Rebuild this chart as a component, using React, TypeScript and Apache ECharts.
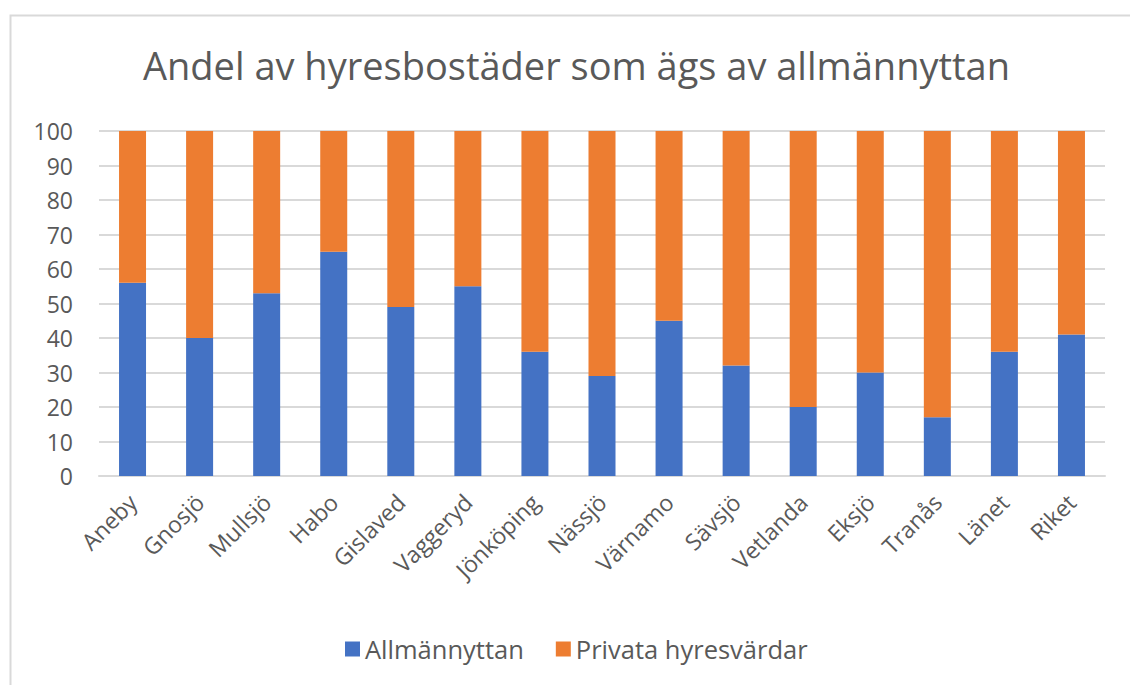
import React, { useEffect, useRef } from "react";
import * as echarts from "echarts";

const categories = ["Aneby", "Gnosjö", "Mullsjö", "Habo", "Gislaved", "Vaggeryd", "Jönköping", "Nässjö", "Värnamo", "Sävsjö", "Vetlanda", "Eksjö", "Tranås", "Länet", "Riket"];
const allmannyttan = [56, 40, 53, 65, 49, 55, 36, 29, 45, 32, 20, 30, 17, 36, 41];
const privata = [44, 60, 47, 35, 51, 45, 64, 71, 55, 68, 80, 70, 83, 64, 59];
const seriesNames = ["Allmännyttan", "Privata hyresvärdar"];
const titleText = "Andel av hyresbostäder som ägs av allmännyttan";

const FONT = "'Open Sans', 'Noto Sans', sans-serif";
const TXT = "#595959";

export default function App() {
  const ref = useRef<HTMLDivElement>(null);
  useEffect(() => {
    if (!ref.current) return;
    const chart = echarts.init(ref.current, null, { renderer: "svg" });
    chart.setOption({
      animation: false,
      backgroundColor: "#ffffff",
      textStyle: { fontFamily: FONT },
      title: {
        text: titleText,
        left: 138,
        top: 41,
        textStyle: { fontFamily: FONT, fontSize: 38, fontWeight: "normal", color: TXT },
      },
      graphic: [
        {
          type: "rect",
          left: 8,
          top: 13,
          shape: { width: 1140, height: 700 },
          style: { fill: "none", stroke: "#d9d9d9", lineWidth: 2 },
          silent: true,
        },
      ],
      legend: {
        top: 631,
        left: 340,
        itemWidth: 15,
        itemHeight: 15,
        itemGap: 32,
        icon: "rect",
        textStyle: { fontFamily: FONT, fontSize: 25.5, color: TXT },
        data: seriesNames,
      },
      grid: { left: 99, right: 25, top: 131, bottom: 209, containLabel: false },
      xAxis: {
        type: "category",
        data: categories,
        axisLine: { lineStyle: { color: "#d9d9d9", width: 2 } },
        axisTick: { show: false },
        axisLabel: { rotate: 45, fontFamily: FONT, fontSize: 23, color: TXT, margin: 22, interval: 0 },
      },
      yAxis: {
        type: "value",
        min: 0,
        max: 100,
        interval: 10,
        axisLine: { show: false },
        axisTick: { show: false },
        splitLine: { lineStyle: { color: "#d9d9d9", width: 2 } },
        axisLabel: { fontFamily: FONT, fontSize: 23, color: TXT, margin: 26 },
      },
      series: [
        {
          name: seriesNames[0],
          type: "bar",
          stack: "total",
          data: allmannyttan,
          barWidth: 27,
          itemStyle: { color: "#4472C4" },
        },
        {
          name: seriesNames[1],
          type: "bar",
          stack: "total",
          data: privata,
          barWidth: 27,
          itemStyle: { color: "#ED7D31" },
        },
      ],
    });
    return () => chart.dispose();
  }, []);
  return <div ref={ref} style={{ position: "absolute", left: 0, top: 0, width: 1130, height: 685 }} />;
}
